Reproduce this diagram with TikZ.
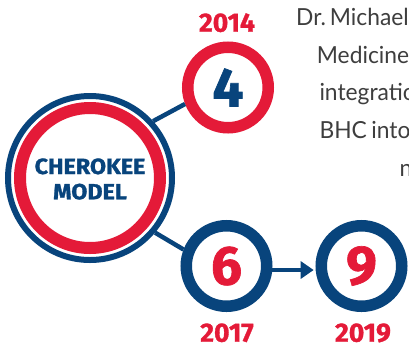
\documentclass[tikz,border=0pt]{standalone}
\usepackage{fontspec}
\setmainfont{Lato}
\newfontfamily\fira{Fira Sans}[BoldFeatures={FakeBold=1.2}]
\usetikzlibrary{arrows.meta}
\definecolor{navy}{RGB}{8,68,124}
\definecolor{crim}{RGB}{228,26,56}
\definecolor{txtgray}{RGB}{62,62,62}
\tikzset{
  ring/.style={circle, inner sep=0pt, fill=white, line width=11.5pt, minimum size=80.5pt,
               font=\fira\bfseries\fontsize{55}{55}\selectfont},
  conn/.style={draw=navy, line width=4.5pt},
  year/.style={anchor=base, inner sep=0pt, text=crim, font=\fira\bfseries\fontsize{26.5}{26.5}\selectfont},
  model/.style={anchor=base, inner sep=0pt, text=navy, font=\fira\bfseries\fontsize{22}{22}\selectfont},
  body/.style={anchor=base west, text=txtgray, inner sep=0pt, font=\fontsize{23.5}{23.5}\selectfont}
}
\begin{document}
\begin{tikzpicture}[x=1pt,y=-1pt]
\useasboundingbox (0,0) rectangle (409,346);
\clip (0,0) rectangle (409,346);
% big circle
\node[circle, draw=navy, fill=white, line width=6pt, minimum size=164pt, inner sep=0pt] (big) at (90,178) {};
\draw[crim, line width=12pt] (big.center) circle[radius=70pt];
\node[model] (cher) at (90,174) {\scalebox{1.06}[1]{CHEROKEE}};
\node[model] (mod) at (90,199.3) {\scalebox{1.06}[1]{MODEL}};
% small circles
\node[ring, draw=crim, text=navy] (n4) at (228,87.5) {4};
\node[ring, draw=navy, text=crim] (n6) at (226.5,266) {6};
\node[ring, draw=navy, text=crim] (n9) at (361.5,266) {9};
% connectors
\draw[conn] (big.42) -- (n4.201);
\draw[conn] (big.-40) -- (n6.159);
\draw[conn, shorten >=2pt, -{Triangle[length=13pt,width=17pt]}] (n6.-5) -- (n9.185);
% years
\node[year] (y14) at (227,31.7) {2014};
\node[year] (y17) at (227,341.7) {2017};
\node[year] (y19) at (363,341.7) {2019};
% body text
\node[body] (t1) at (296,25) {\scalebox{0.97}[1]{Dr.\hspace{0.17em}Michael}};
\node[body] (t2) at (316.7,63.3) {\scalebox{0.97}[1]{Medicine}};
\node[body] (t3) at (319.3,100) {\scalebox{0.97}[1]{integratio}};
\node[body] (t4) at (319.3,138.3) {\scalebox{0.97}[1]{BHC\hspace{0.2em}into}};
\node[body] (t5) at (399.3,176.7) {\scalebox{0.97}[1]{n}};
\end{tikzpicture}
\end{document}
